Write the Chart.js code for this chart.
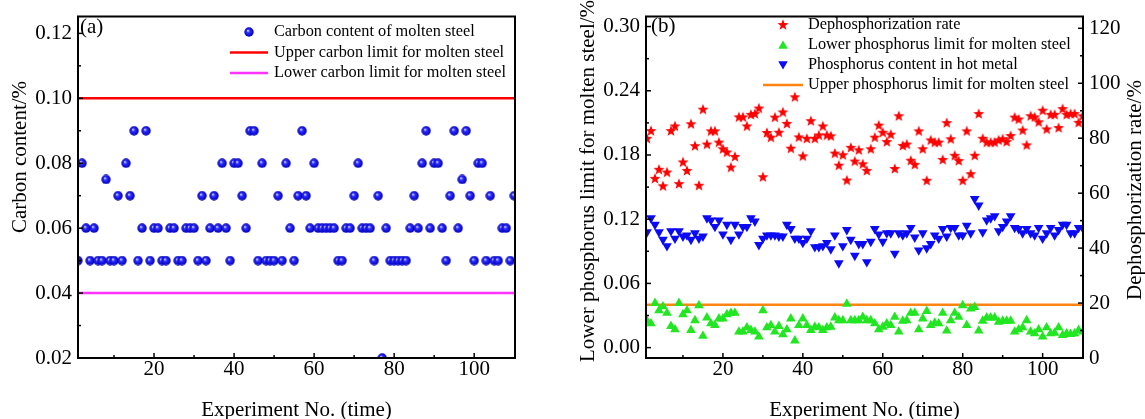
<!DOCTYPE html>
<html><head><meta charset="utf-8">
<script src="https://cdn.jsdelivr.net/npm/chart.js@4.4.0/dist/chart.umd.min.js"></script>
<style>
html,body{margin:0;padding:0;background:#fff;overflow:hidden;width:1145px;height:419px;position:relative;}
#ca{position:absolute;left:0;top:0;}
#cb{position:absolute;left:560px;top:0;}
</style></head><body>
<canvas id="ca" width="560" height="430"></canvas>
<canvas id="cb" width="590" height="430"></canvas>
<script>
// ---------------- DATA ----------------
const experimentNo = Array.from({length:110}, (_, i) => i + 1);

const carbonContent = [
0.05,0.08,0.06,0.05,0.06,0.05,0.05,0.075,0.05,0.05,
0.07,0.05,0.08,0.07,0.09,0.05,0.06,0.09,0.05,0.06,
0.06,0.05,0.05,0.06,0.06,0.05,0.05,0.06,0.06,0.06,
0.05,0.07,0.05,0.06,0.07,0.06,0.08,0.06,0.05,0.08,
0.08,0.07,0.06,0.09,0.09,0.05,0.08,0.05,0.05,0.05,
0.07,0.05,0.08,0.06,0.05,0.07,0.09,0.07,0.06,0.08,
0.06,0.06,0.06,0.06,0.06,0.05,0.05,0.06,0.06,0.07,
0.08,0.06,0.06,0.06,0.05,0.07,0.02,0.06,0.05,0.05,
0.05,0.05,0.05,0.06,0.07,0.06,0.08,0.09,0.06,0.08,
0.08,0.06,0.05,0.07,0.09,0.06,0.075,0.09,0.07,0.05,
0.08,0.08,0.05,0.07,0.05,0.05,0.06,0.06,0.05,0.07];
const upperCarbonLimit = 0.10;
const lowerCarbonLimit = 0.04;

const dephosphorizationRate = [
79.8,82.6,65.2,68.5,62.5,67.5,82.6,84.3,63.3,71.2,
68.1,85.1,77.1,62.7,90.4,77.7,82.5,82.5,78.4,76.0,
74.8,69.3,73.2,87.6,87.6,84.3,88.5,88.8,90.8,65.8,
81.9,80.2,87.5,82.0,89.4,85.2,76.2,94.9,80.3,73.4,
79.8,86.2,79.8,81.0,84.3,81.0,80.7,74.4,70.0,73.8,
64.6,76.5,71.5,75.6,70.5,68.1,76.0,80.2,84.6,82.0,
78.6,81.3,68.8,88.0,77.2,77.7,71.8,70.3,82.5,76.0,
64.5,79.2,78.4,78.4,72.1,85.5,79.6,73.6,71.7,64.5,
82.5,66.9,73.6,88.8,79.8,78.4,78.4,78.4,79.2,79.6,
78.6,80.8,87.5,86.8,82.8,77.4,88.0,87.6,85.8,90.0,
83.2,88.5,88.5,83.7,90.6,88.5,88.8,88.8,85.6,88.0];

const lowerPhosphorusLimit = [
0.025,0.0225,0.0415,0.0347,0.0384,0.0323,0.0200,0.0169,0.0415,0.0311,
0.0347,0.0163,0.0255,0.0394,0.0108,0.0280,0.0225,0.0209,0.0271,0.0271,
0.0311,0.0323,0.0323,0.0148,0.0148,0.0188,0.0163,0.0148,0.0102,0.0347,
0.0188,0.0209,0.0148,0.0200,0.0123,0.0169,0.0271,0.0065,0.0209,0.0271,
0.0209,0.0163,0.0194,0.0188,0.0163,0.0188,0.0194,0.0280,0.0255,0.0255,
0.0409,0.0255,0.0255,0.0255,0.0286,0.0255,0.0255,0.0225,0.0169,0.0194,
0.0225,0.0209,0.0286,0.0148,0.0249,0.0255,0.0323,0.0323,0.0169,0.0271,
0.0341,0.0209,0.0231,0.0225,0.0323,0.0157,0.0255,0.0323,0.0286,0.0394,
0.0209,0.0363,0.0378,0.0157,0.0249,0.0280,0.0280,0.0280,0.0240,0.0249,
0.0249,0.0249,0.0148,0.0169,0.0188,0.0255,0.0148,0.0132,0.0169,0.0102,
0.0188,0.0132,0.0138,0.0188,0.0117,0.0132,0.0126,0.0132,0.0163,0.0148];

const hotMetalPhosphorus = [
0.108,0.121,0.115,0.108,0.101,0.095,0.109,0.102,0.109,0.104,
0.105,0.101,0.107,0.102,0.104,0.121,0.119,0.113,0.119,0.106,
0.115,0.101,0.115,0.106,0.113,0.113,0.121,0.118,0.096,0.102,
0.105,0.105,0.105,0.104,0.104,0.115,0.111,0.102,0.102,0.098,
0.102,0.109,0.094,0.094,0.095,0.098,0.092,0.105,0.079,0.095,
0.110,0.101,0.086,0.097,0.097,0.080,0.099,0.111,0.106,0.099,
0.107,0.107,0.088,0.107,0.105,0.107,0.112,0.103,0.091,0.107,
0.093,0.097,0.105,0.102,0.111,0.104,0.112,0.112,0.105,0.105,
0.114,0.107,0.139,0.133,0.108,0.119,0.121,0.123,0.109,0.113,
0.118,0.123,0.112,0.111,0.107,0.111,0.107,0.105,0.112,0.102,
0.107,0.112,0.105,0.110,0.115,0.115,0.107,0.107,0.112,0.112];
const upperPhosphorusLimit = 0.04;

// tick labels
const xTicksMajor = [20, 40, 60, 80, 100];
const xTicksMinor = [10, 30, 50, 70, 90];
const carbonTicksMajor = [0.02, 0.04, 0.06, 0.08, 0.10, 0.12];
const carbonTicksMinor = [0.03, 0.05, 0.07, 0.09, 0.11];
const pTicksMajor = [0, 0.06, 0.12, 0.18, 0.24, 0.30];
const pTicksMinor = [0.03, 0.09, 0.15, 0.21, 0.27];
const rateTicksMajor = [0, 20, 40, 60, 80, 100, 120];
const rateTicksMinor = [10, 30, 50, 70, 90, 110];

// labels
const labelsA = ['Carbon content of molten steel', 'Upper carbon limit for molten steel', 'Lower carbon limit for molten steel'];
const labelsB = ['Dephosphorization rate', 'Lower phosphorus limit for molten steel', 'Phosphorus content in hot metal', 'Upper phosphorus limit for molten steel'];

// ---------------- STYLE ----------------
const SERIF = "'Liberation Serif', 'Times New Roman', serif";
Chart.defaults.font.family = SERIF;
Chart.defaults.color = '#000';
const C_RED = '#ff0000', C_MAG = '#ff33ff', C_ORANGE = '#ff8412', C_GREEN = '#22e622', C_TRI_BLUE = '#0a0af5';

function sphereImg(r) {
  const s = Math.ceil(2 * r);
  const c = document.createElement('canvas'); c.width = c.height = s;
  const g = c.getContext('2d');
  const gr = g.createRadialGradient(s * 0.38, s * 0.36, r * 0.05, s / 2, s / 2, r);
  gr.addColorStop(0, '#d8d8ff'); gr.addColorStop(0.35, '#2a2aff'); gr.addColorStop(1, '#0000b8');
  g.fillStyle = gr; g.beginPath(); g.arc(s / 2, s / 2, r, 0, Math.PI * 2); g.fill();
  return c;
}
function starImg(R, r, color) {
  const s = Math.ceil(2 * R) + 2;
  const c = document.createElement('canvas'); c.width = c.height = s;
  const g = c.getContext('2d'); g.fillStyle = color; g.beginPath();
  for (let k = 0; k < 10; k++) {
    const ang = -Math.PI / 2 + k * Math.PI / 5, rad = k % 2 ? r : R;
    g.lineTo(s / 2 + rad * Math.cos(ang), s / 2 + rad * Math.sin(ang));
  }
  g.closePath(); g.fill(); return c;
}
const SPHERE = sphereImg(4.7);
const STAR = starImg(5.8, 2.4, C_RED);

const toXY = ys => ys.map((y, i) => ({x: experimentNo[i], y}));

function tri(ctx, x, y, r, down, color) {
  ctx.save(); ctx.fillStyle = color; ctx.translate(x, y); if (down) ctx.rotate(Math.PI);
  ctx.beginPath(); ctx.moveTo(0, -r); ctx.lineTo(r * Math.sin(2 * Math.PI / 3), -r * Math.cos(2 * Math.PI / 3));
  ctx.lineTo(r * Math.sin(4 * Math.PI / 3), -r * Math.cos(4 * Math.PI / 3)); ctx.closePath(); ctx.fill(); ctx.restore();
}

const decor = {
  id: 'decor',
  afterDraw(chart, args, o) {
    const ctx = chart.ctx, a = chart.chartArea;
    ctx.save();
    ctx.strokeStyle = '#000'; ctx.lineWidth = 1.5;
    for (const t of o.ticks) {
      const s = chart.scales[t.scale];
      for (const [vals, len] of [[t.major, 5], [t.minor, 3]]) for (const v of vals) {
        const p = s.getPixelForValue(v);
        ctx.beginPath();
        if (t.side === 'bottom') { ctx.moveTo(p, a.bottom); ctx.lineTo(p, a.bottom - len); }
        else if (t.side === 'left') { ctx.moveTo(a.left, p); ctx.lineTo(a.left + len, p); }
        else { ctx.moveTo(a.right, p); ctx.lineTo(a.right - len, p); }
        ctx.stroke();
      }
    }
    ctx.lineWidth = 2;
    ctx.strokeRect(a.left, a.top, a.right - a.left, a.bottom - a.top);
    // panel label
    ctx.fillStyle = '#000'; ctx.textBaseline = 'middle'; ctx.textAlign = 'left';
    ctx.font = '21px ' + SERIF;
    ctx.fillText(o.panel.text, o.panel.x, o.panel.y);
    // vertical titles
    for (const vt of o.vtitles) {
      ctx.save(); ctx.translate(vt.x, vt.y); ctx.rotate(-Math.PI / 2);
      ctx.textAlign = 'center'; ctx.textBaseline = 'middle'; ctx.font = '21px ' + SERIF;
      ctx.fillText(vt.text, 0, 0); ctx.restore();
    }
    // legend
    const L = o.legend;
    ctx.font = '16.3px ' + SERIF; ctx.textAlign = 'left'; ctx.textBaseline = 'middle';
    L.items.forEach((it, i) => {
      const y = L.y0 + i * L.dy, cx = (L.x1 + L.x2) / 2;
      if (it.type === 'sphere') ctx.drawImage(SPHERE, cx - SPHERE.width / 2, y - SPHERE.height / 2);
      else if (it.type === 'star') ctx.drawImage(STAR, cx - STAR.width / 2, y - STAR.height / 2);
      else if (it.type === 'triUp') tri(ctx, cx, y + 1, 5.5, false, it.color);
      else if (it.type === 'triDown') tri(ctx, cx, y - 1, 5.5, true, it.color);
      else { ctx.strokeStyle = it.color; ctx.lineWidth = 2.5; ctx.beginPath(); ctx.moveTo(L.x1, y); ctx.lineTo(L.x2, y); ctx.stroke(); }
      ctx.fillStyle = '#000'; ctx.fillText(it.label, L.tx, y);
    });
    ctx.restore();
  }
};

function xScale(min, max) {
  return {
    type: 'linear', position: 'bottom', min, max,
    grid: {display: false, drawTicks: false}, border: {display: false},
    afterBuildTicks: s => { s.ticks = xTicksMajor.map(v => ({value: v})); },
    afterFit: s => { s.height = 72; },
    ticks: {font: {size: 21, lineHeight: 1.1}, color: '#000', padding: 0, maxRotation: 0, autoSkip: false},
    title: {display: true, text: 'Experiment No. (time)', font: {size: 21}, color: '#000', padding: {top: 0, bottom: 7}}
  };
}
function yScale(pos, min, max, major, width, fmt) {
  return {
    type: 'linear', position: pos, min, max,
    grid: {display: false, drawTicks: false}, border: {display: false},
    afterBuildTicks: s => { s.ticks = major.map(v => ({value: v})); },
    afterFit: s => { s.width = width; },
    ticks: {font: {size: 21, lineHeight: 1.0}, color: '#000', padding: 6, autoSkip: false, callback: fmt},
    title: {display: false}
  };
}

// ---------------- CHART A ----------------
const xMinA = 1, xMaxA = 110.2;
new Chart(document.getElementById('ca'), {
  type: 'scatter',
  data: {datasets: [
    {label: labelsA[0], data: toXY(carbonContent), pointStyle: SPHERE, pointRadius: 4.7, showLine: false, clip: 0, order: 1},
    {label: labelsA[1], data: [{x: xMinA, y: upperCarbonLimit}, {x: xMaxA, y: upperCarbonLimit}], showLine: true, borderColor: C_RED, borderWidth: 2.5, pointRadius: 0, clip: 0, order: 2},
    {label: labelsA[2], data: [{x: xMinA, y: lowerCarbonLimit}, {x: xMaxA, y: lowerCarbonLimit}], showLine: true, borderColor: C_MAG, borderWidth: 2.5, pointRadius: 0, clip: 0, order: 3}
  ]},
  options: {
    responsive: false, animation: false, devicePixelRatio: 1,
    layout: {padding: {left: 0, top: 12, right: 45, bottom: 0}},
    scales: {
      x: xScale(xMinA, xMaxA),
      y: yScale('left', 0.02, 0.1252, carbonTicksMajor, 78, v => v.toFixed(2))
    },
    plugins: {
      legend: {display: false}, tooltip: {enabled: false},
      decor: {
        ticks: [
          {scale: 'x', side: 'bottom', major: xTicksMajor, minor: xTicksMinor},
          {scale: 'y', side: 'left', major: carbonTicksMajor, minor: carbonTicksMinor}
        ],
        panel: {text: '(a)', x: 80, y: 27},
        vtitles: [{text: 'Carbon content/%', x: 20, y: 157}],
        legend: {x1: 230, x2: 268, tx: 274, y0: 32, dy: 20.5, items: [
          {type: 'sphere', label: labelsA[0]},
          {type: 'line', color: C_RED, label: labelsA[1]},
          {type: 'line', color: C_MAG, label: labelsA[2]}
        ]}
      }
    }
  },
  plugins: [decor]
});

// ---------------- CHART B ----------------
const xMinB = 0.75, xMaxB = 110.1;
new Chart(document.getElementById('cb'), {
  type: 'scatter',
  data: {datasets: [
    {label: labelsB[3], data: [{x: xMinB, y: upperPhosphorusLimit}, {x: xMaxB, y: upperPhosphorusLimit}], yAxisID: 'yL', showLine: true, borderColor: C_ORANGE, borderWidth: 2.5, pointRadius: 0, clip: 0, order: 4},
    {label: labelsB[1], data: toXY(lowerPhosphorusLimit), yAxisID: 'yL', pointStyle: 'triangle', pointRadius: 5.6, backgroundColor: C_GREEN, borderColor: C_GREEN, borderWidth: 0, clip: 0, order: 3},
    {label: labelsB[2], data: toXY(hotMetalPhosphorus), yAxisID: 'yL', pointStyle: 'triangle', rotation: 180, pointRadius: 5.6, backgroundColor: C_TRI_BLUE, borderColor: C_TRI_BLUE, borderWidth: 0, clip: 0, order: 2},
    {label: labelsB[0], data: toXY(dephosphorizationRate), yAxisID: 'yR', pointStyle: STAR, pointRadius: 5.8, clip: 0, order: 1}
  ]},
  options: {
    responsive: false, animation: false, devicePixelRatio: 1,
    layout: {padding: {left: 0, top: 12, right: 0, bottom: 0}},
    scales: {
      x: xScale(xMinB, xMaxB),
      yL: yScale('left', -0.0097, 0.3094, pTicksMajor, 86, v => v.toFixed(2)),
      yR: yScale('right', 0, 124.3, rateTicksMajor, 67, v => String(v))
    },
    plugins: {
      legend: {display: false}, tooltip: {enabled: false},
      decor: {
        ticks: [
          {scale: 'x', side: 'bottom', major: xTicksMajor, minor: xTicksMinor},
          {scale: 'yL', side: 'left', major: pTicksMajor, minor: pTicksMinor},
          {scale: 'yR', side: 'right', major: rateTicksMajor, minor: rateTicksMinor}
        ],
        panel: {text: '(b)', x: 91, y: 26},
        vtitles: [
          {text: 'Lower phosphorus limit for molten steel/%', x: 28, y: 181},
          {text: 'Dephosphorization rate/%', x: 575, y: 190}
        ],
        legend: {x1: 203, x2: 243, tx: 248, y0: 25, dy: 20, items: [
          {type: 'star', label: labelsB[0]},
          {type: 'triUp', color: C_GREEN, label: labelsB[1]},
          {type: 'triDown', color: C_TRI_BLUE, label: labelsB[2]},
          {type: 'line', color: C_ORANGE, label: labelsB[3]}
        ]}
      }
    }
  },
  plugins: [decor]
});
</script>
</body></html>
